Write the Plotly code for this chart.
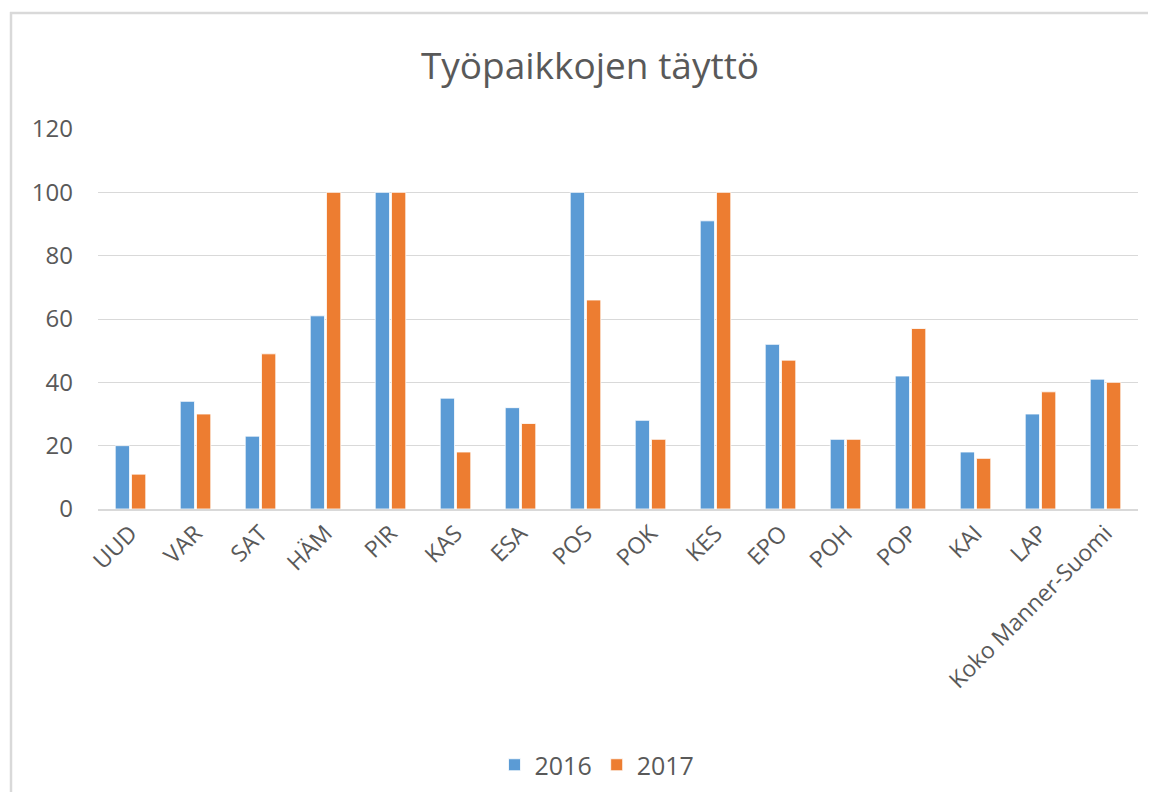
import plotly.graph_objects as go

categories = ["UUD", "VAR", "SAT", "HÄM", "PIR", "KAS", "ESA", "POS", "POK", "KES",
              "EPO", "POH", "POP", "KAI", "LAP", "Koko Manner-Suomi"]
values_2016 = [20, 34, 23, 61, 100, 35, 32, 100, 28, 91, 52, 22, 42, 18, 30, 41]
values_2017 = [11, 30, 49, 100, 100, 18, 27, 66, 22, 100, 47, 22, 57, 16, 37, 40]
series_names = ["2016", "2017"]
y_ticks = [0, 20, 40, 60, 80, 100, 120]

OFF = 8  # page body margin
W, H = 1156 - 2 * OFF, 800 - 2 * OFF
L = 98 - OFF
T = 129 - OFF
R = W - (1138 - OFF)
B = H - (509 - OFF)
pw, ph = W - L - R, H - T - B

def px_x(x):
    return (x - OFF - L) / pw

def px_y(y):
    return (H - B - (y - OFF)) / ph

font_family = "Open Sans, Noto Sans, sans-serif"
gray = "#595959"
border = dict(color="#D9D9D9", width=2.5)

fig = go.Figure()
fig.add_trace(go.Bar(x=categories, y=values_2016, name=series_names[0],
                     marker=dict(color="#5B9BD5", line=dict(color="white", width=0.8))))
fig.add_trace(go.Bar(x=categories, y=values_2017, name=series_names[1],
                     marker=dict(color="#ED7D31", line=dict(color="white", width=0.8))))

fig.update_layout(
    width=W, height=H,
    margin=dict(l=L, r=R, t=T, b=B, autoexpand=False),
    paper_bgcolor="white", plot_bgcolor="white",
    barmode="group", bargap=0.5, bargroupgap=0.12,
    title=dict(text="Työpaikkojen täyttö", xref="container", x=(590 - OFF) / W, xanchor="center",
               yref="container", y=1 - (66 - OFF) / H, yanchor="middle",
               font=dict(family=font_family, size=37, color=gray)),
    font=dict(family=font_family, color=gray),
    showlegend=True,
    legend=dict(orientation="h", x=px_x(597), xanchor="center", y=px_y(765), yanchor="middle",
                font=dict(family=font_family, size=25, color=gray),
                itemwidth=30, traceorder="normal"),
    xaxis=dict(showgrid=False, showline=True, linecolor="#D9D9D9", linewidth=1.5,
               ticks="", tickangle=-45, automargin=False,
               tickfont=dict(family=font_family, size=23, color=gray)),
    yaxis=dict(range=[0, 120], tickvals=y_ticks, showgrid=True, gridcolor="#D9D9D9",
               gridwidth=1.3, zeroline=False, showline=False, ticks="",
               automargin=False, ticklabelstandoff=24,
               tickfont=dict(family=font_family, size=24, color=gray)),
    shapes=[
        dict(type="line", xref="paper", yref="paper",
             x0=px_x(10), x1=px_x(OFF + W), y0=px_y(13), y1=px_y(13),
             line=border, layer="below"),
        dict(type="line", xref="paper", yref="paper",
             x0=px_x(11), x1=px_x(11), y0=px_y(12), y1=px_y(OFF + H),
             line=border, layer="below"),
    ],
)

fig.write_html("out.html", config={"displayModeBar": False})
